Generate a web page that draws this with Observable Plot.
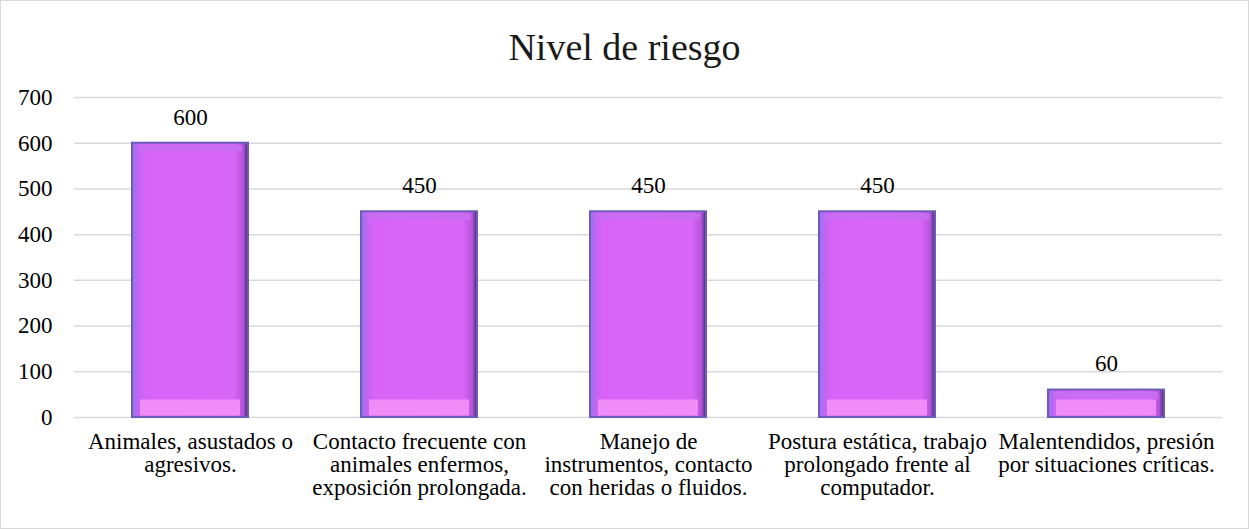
<!DOCTYPE html>
<html>
<head>
<meta charset="utf-8">
<script src="https://cdn.jsdelivr.net/npm/d3@7"></script>
<script src="https://cdn.jsdelivr.net/npm/@observablehq/plot@0.6"></script>
<style>
  html, body { margin: 0; padding: 0; background: #fff; }
  #wrap { width: 1249px; height: 529px; box-sizing: border-box; border: 1px solid #d9d9d9; background: #fff; font-family: 'Liberation Serif'; }
  #title { height: 80px; line-height: 92px; text-align: center; font-size: 38px; color: #1a1a1a; font-family: 'Liberation Serif'; }
</style>
</head>
<body>
<div id="wrap">
  <div id="title">Nivel de riesgo</div>
  <div id="chart"></div>
</div>
<script>
const categories = [
  "Animales, asustados o\nagresivos.",
  "Contacto frecuente con\nanimales enfermos,\nexposición prolongada.",
  "Manejo de\ninstrumentos, contacto\ncon heridas o fluidos.",
  "Postura estática, trabajo\nprolongado frente al\ncomputador.",
  "Malentendidos, presión\npor situaciones críticas."
];
const values = [600, 450, 450, 450, 60];
const yTicks = [0, 100, 200, 300, 400, 500, 600, 700];

const data = categories.map((c, i) => ({cat: c, value: values[i]}));

const chart = Plot.plot({
  width: 1247,
  height: 447,
  marginTop: 16,
  marginBottom: 111,
  marginLeft: 73,
  marginRight: 26,
  style: {fontFamily: "'Liberation Serif'", fontSize: "23px", color: "#000", background: "#fff"},
  x: {domain: categories, paddingInner: 0.495, paddingOuter: 0.2475},
  y: {domain: [0, 700]},
  marks: [
    Plot.gridY(yTicks, {stroke: "#d9d9d9", strokeOpacity: 1, strokeWidth: 1.5}),
    Plot.axisY(yTicks, {label: null, tickSize: 0, tickPadding: 22, fontSize: 23}),
    Plot.axisX({label: null, tickSize: 0, tickPadding: 15, fontSize: 23, lineHeight: 1.0}),
    Plot.barY(data, {x: "cat", y: "value", fill: "url(#barGrad)", stroke: "#6a5cb8", strokeWidth: 2}),
    Plot.tickY(data, {x: "cat", y: 0, stroke: "#f08cf7", strokeWidth: 16, dy: -10, insetLeft: 8, insetRight: 8}),
    Plot.tickY(data, {x: "cat", y: "value", stroke: "#c86cf2", strokeWidth: 6, dy: 5, insetLeft: 6, insetRight: 6}),
    Plot.text(data, {x: "cat", y: "value", text: d => String(d.value), dy: -26, fill: "#000", fontSize: 23})
  ]
});

const defs = d3.create("svg:defs");
const g = defs.append("linearGradient").attr("id", "barGrad").attr("x1", 0).attr("x2", 1).attr("y1", 0).attr("y2", 0);
g.append("stop").attr("offset", "0%").attr("stop-color", "#8f78ea");
g.append("stop").attr("offset", "5%").attr("stop-color", "#c165f5");
g.append("stop").attr("offset", "12%").attr("stop-color", "#d764f7");
g.append("stop").attr("offset", "88%").attr("stop-color", "#d866f7");
g.append("stop").attr("offset", "96%").attr("stop-color", "#b553d9");
g.append("stop").attr("offset", "100%").attr("stop-color", "#3d2d6b");
chart.insertBefore(defs.node(), chart.firstChild);

document.getElementById("chart").appendChild(chart);
</script>
</body>
</html>
